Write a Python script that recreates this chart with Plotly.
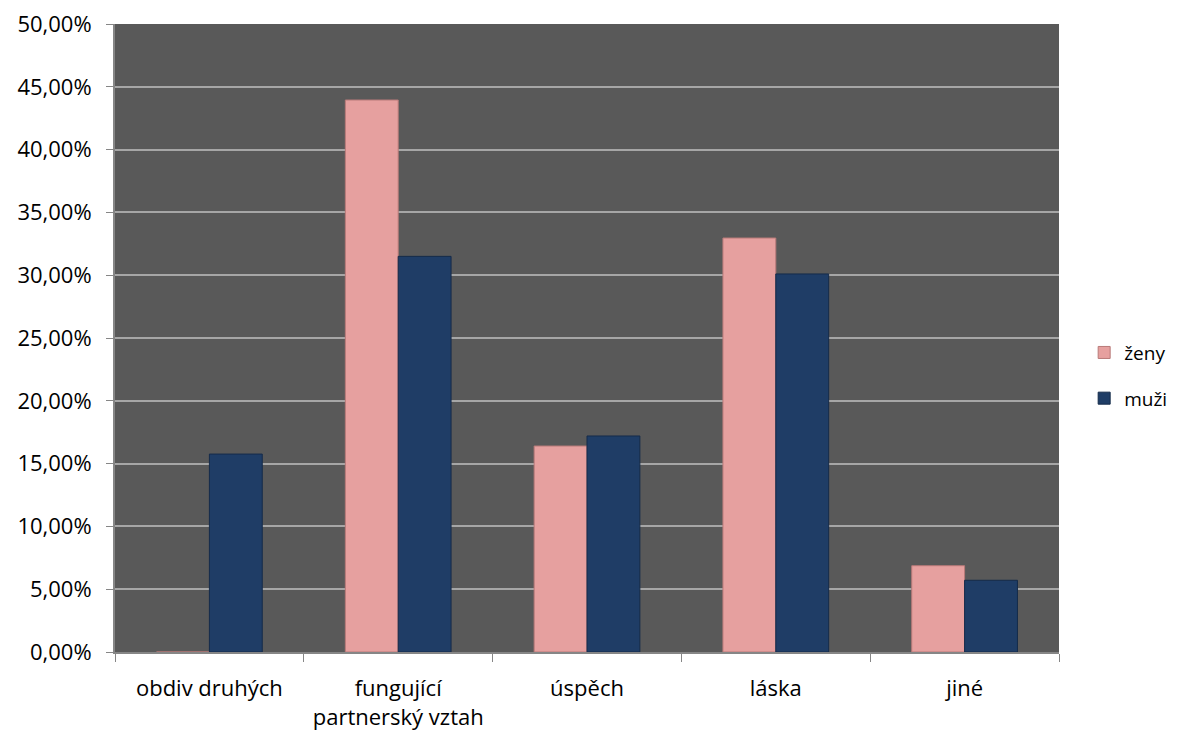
import plotly.graph_objects as go

categories = ["obdiv druhých", "fungující<br>partnerský vztah", "úspěch", "láska", "jiné"]
zeny = [0.0, 0.4395, 0.164, 0.3296, 0.0687]
muzi = [0.1576, 0.315, 0.172, 0.301, 0.0571]

fig = go.Figure()
fig.add_trace(go.Bar(
    x=categories, y=zeny, name="ženy", legendgroup="z",
    marker=dict(color="#E6A09F", line=dict(color="#B87A79", width=1)),
))
fig.add_trace(go.Bar(
    x=categories, y=muzi, name="muži", legendgroup="m",
    marker=dict(color="#1F3D66", line=dict(color="#152B4A", width=1)),
))

fig.update_layout(
    width=1181, height=730,
    margin=dict(l=115, r=122, t=24, b=78),
    paper_bgcolor="white",
    plot_bgcolor="#595959",
    separators=", ",
    bargap=0.44, bargroupgap=0.0,
    font=dict(family="Open Sans, Noto Sans, sans-serif", size=22, color="black"),
    showlegend=True,
    legend=dict(xref="container", yref="container", x=0.918, y=0.543,
                xanchor="left", yanchor="top",
                font=dict(size=19), traceorder="grouped", tracegroupgap=18,
                itemwidth=30),
)
fig.update_yaxes(
    range=[0, 0.5], dtick=0.05, tickformat=".2%", automargin=False,
    ticklabelstandoff=10, ticklabeloverflow="allow",
    showgrid=True, gridcolor="#A6A6A6", gridwidth=2,
    ticks="outside", ticklen=7, tickcolor="#868686",
    showline=True, linecolor="#868686", linewidth=2,
    zeroline=False,
)
fig.update_xaxes(
    automargin=False, ticklabelstandoff=16, ticklabeloverflow="allow",
    tickson="boundaries", ticks="outside", ticklen=8, tickcolor="#868686",
    showline=True, linecolor="#868686", linewidth=2, showgrid=False,
)

# drop the default page margin so the figure sits at the window corner
fig.write_html("out.html", config={"displayModeBar": False},
               post_script="document.body.style.margin='0';")
